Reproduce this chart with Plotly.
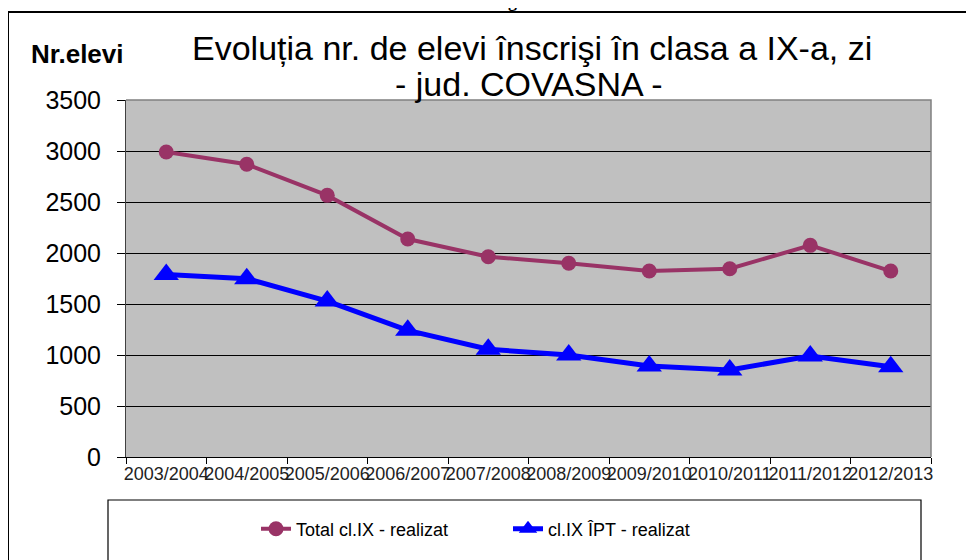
import plotly.graph_objects as go

years = ["2003/2004", "2004/2005", "2005/2006", "2006/2007", "2007/2008",
         "2008/2009", "2009/2010", "2010/2011", "2011/2012", "2012/2013"]
total_ix = [2990, 2870, 2565, 2137, 1963, 1900, 1823, 1846, 2075, 1823]
ipt_ix = [1790, 1748, 1529, 1242, 1056, 1000, 892, 853, 990, 885]
y_ticks = [0, 500, 1000, 1500, 2000, 2500, 3000, 3500]

W, H = 974, 560
OFF = 8  # page body margin offset
PW, PH = 805, 357
L, T = 126 - OFF, 100 - OFF
R, B = W - L - PW, H - T - PH

def px(x):
    # page x pixel -> paper fraction
    return (x - OFF - L) / PW

def py(y):
    # page y pixel -> paper fraction
    return (T + PH - (y - OFF)) / PH

fig = go.Figure()
fig.add_trace(go.Scatter(
    x=years, y=total_ix, name="Total cl.IX - realizat", mode="lines+markers",
    line=dict(color="#993366", width=4),
    marker=dict(symbol="circle", size=15, color="#993366"),
))
fig.add_trace(go.Scatter(
    x=years, y=ipt_ix, name="cl.IX ÎPT - realizat", mode="lines+markers",
    line=dict(color="#0000FF", width=5),
    marker=dict(symbol="triangle-up", size=22, color="#0000FF"),
))

font = "Liberation Sans, Arial, sans-serif"

fig.update_layout(
    width=W, height=H,
    margin=dict(l=L, r=R, t=T, b=B, autoexpand=False),
    paper_bgcolor="white",
    plot_bgcolor="#C0C0C0",
    font=dict(family=font, color="#000000"),
    showlegend=True,
    legend=dict(
        orientation="h", x=px(256), y=py(529), xanchor="left", yanchor="middle",
        font=dict(size=18, family=font, color="#000000"),
        entrywidth=207, entrywidthmode="pixels",
        bgcolor="rgba(0,0,0,0)", borderwidth=0,
    ),
    xaxis=dict(
        type="category", range=[-0.5, 9.5], automargin=False,
        showgrid=False, showline=True, linecolor="#000000", linewidth=1,
        ticks="outside", tickson="boundaries", ticklen=6, tickcolor="#000000",
        tickangle=0,
        tickfont=dict(size=18, family=font, color="#222222"),
        zeroline=False,
    ),
    yaxis=dict(
        range=[0, 3500], tickvals=y_ticks, automargin=False,
        showgrid=True, gridcolor="#000000", gridwidth=1,
        showline=True, linecolor="#404040", linewidth=1,
        ticks="outside", ticklen=8, tickcolor="#000000",
        tickfont=dict(size=25, family=font, color="#000000"),
        ticklabelstandoff=11,
        zeroline=False,
    ),
    shapes=[
        dict(type="path", xref="paper", yref="paper", path="M 0 1 L 1 1 L 1 0",
             line=dict(color="#808080", width=1.5), layer="above"),
        dict(type="rect", xref="paper", yref="paper",
             x0=px(108), x1=px(921), y0=py(500), y1=py(580),
             line=dict(color="#000000", width=1.2), fillcolor="rgba(0,0,0,0)", layer="below"),
        dict(type="rect", xref="paper", yref="paper",
             x0=px(8), x1=px(995), y0=py(12), y1=py(590),
             line=dict(color="#000000", width=2), fillcolor="rgba(0,0,0,0)", layer="below"),
    ],
    annotations=[
        dict(text="Evoluția nr. de elevi înscrişi în clasa a IX-a, zi",
             xref="paper", yref="paper", x=px(532), y=py(48),
             xanchor="center", yanchor="middle", showarrow=False,
             font=dict(size=34, family=font, color="#000000")),
        dict(text="- jud. COVASNA -",
             xref="paper", yref="paper", x=px(529), y=py(84),
             xanchor="center", yanchor="middle", showarrow=False,
             font=dict(size=34, family=font, color="#000000")),
        dict(text="<b>Nr.elevi</b>",
             xref="paper", yref="paper", x=px(77), y=py(54),
             xanchor="center", yanchor="middle", showarrow=False,
             font=dict(size=26, family=font, color="#000000")),
        dict(text="<b>Fig. 5.6</b>",
             xref="paper", yref="paper", x=px(520), y=py(13),
             xanchor="center", yanchor="bottom", showarrow=False,
             font=dict(size=18, family="Liberation Serif, Times New Roman, serif", color="#000000")),
    ],
)

fig.write_html("out.html")
